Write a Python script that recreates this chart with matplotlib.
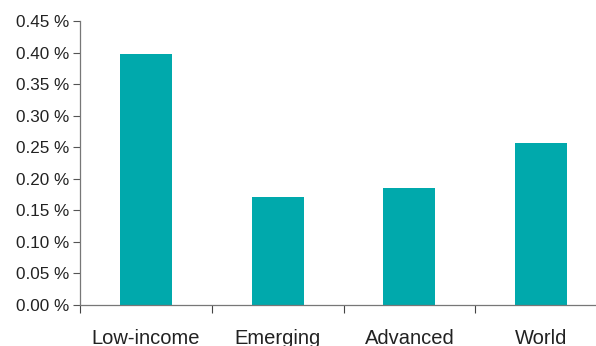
import matplotlib
matplotlib.use("Agg")
import matplotlib.pyplot as plt
from matplotlib.ticker import FixedLocator, FuncFormatter

categories = ["Low-income", "Emerging", "Advanced", "World"]
values = [0.398, 0.171, 0.185, 0.257]
yticks = [0.00, 0.05, 0.10, 0.15, 0.20, 0.25, 0.30, 0.35, 0.40, 0.45]

plt.rcParams['font.family'] = ['Liberation Sans', 'DejaVu Sans']

fig = plt.figure(figsize=(5.96, 3.46), dpi=100)
ax = fig.add_axes([80/596, 1-305/346, 527/596, 284/346])

x = list(range(len(categories)))
ax.bar(x, values, width=0.395, color="#00A9AC", zorder=2)

ax.set_xlim(-0.5, len(categories) - 0.5)
ax.set_ylim(0, 0.45)
ax.set_yticks(yticks)
ax.yaxis.set_major_formatter(FuncFormatter(lambda v, p: f"{v:.2f} %"))
ax.tick_params(axis='y', direction='out', length=5, width=0.8, color="#555555",
               labelsize=12.3, labelcolor="#222222", pad=3)

ax.set_xticks(x)
ax.set_xticklabels(categories)
ax.tick_params(axis='x', which='major', length=0, labelsize=14.5, labelcolor="#222222", pad=17)
ax.xaxis.set_minor_locator(FixedLocator([i - 0.5 for i in range(len(categories) + 1)]))
ax.tick_params(axis='x', which='minor', direction='out', length=6, width=0.8, color="#444444")

for s in ['top', 'right']:
    ax.spines[s].set_visible(False)
for s in ['left', 'bottom']:
    ax.spines[s].set_color("#777777")
    ax.spines[s].set_linewidth(0.9)

fig.savefig("out.png", dpi=100)
